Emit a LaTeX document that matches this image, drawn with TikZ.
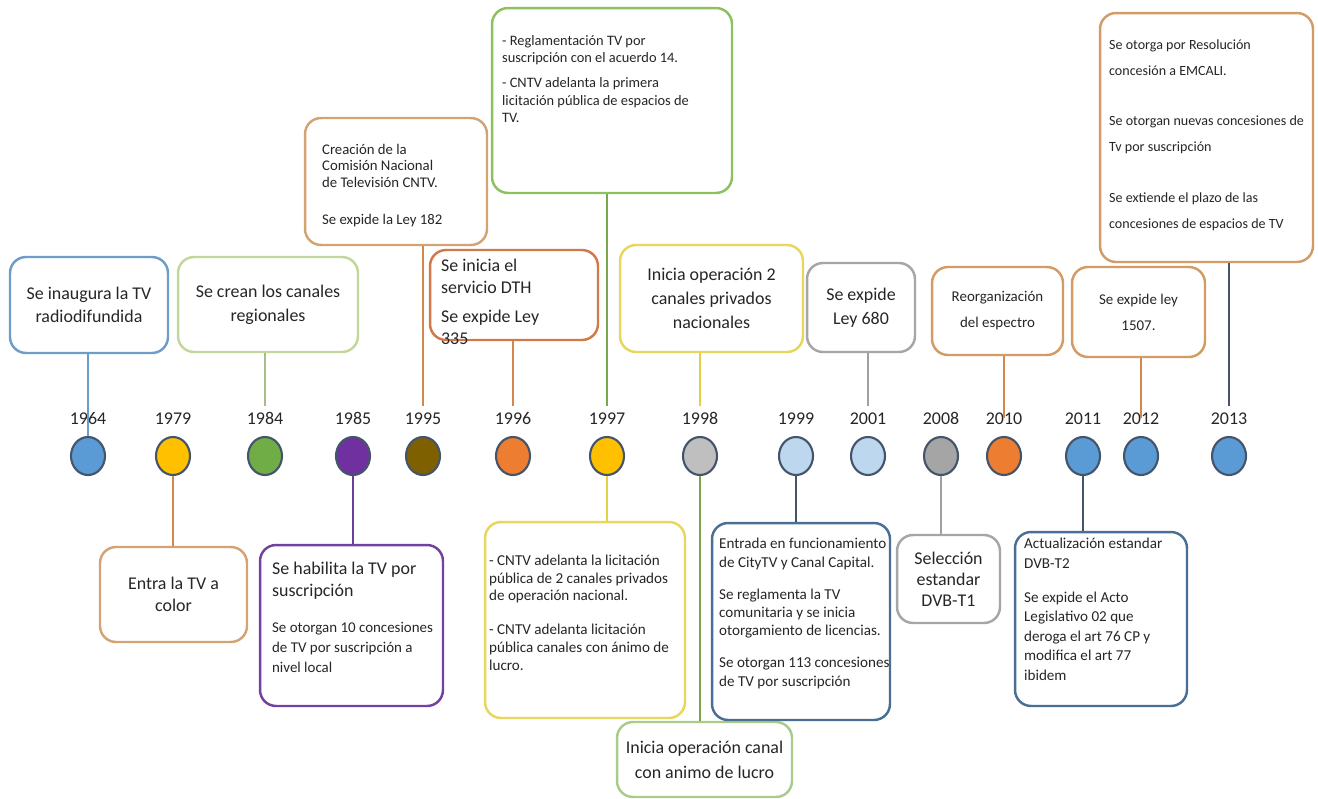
\documentclass[tikz,border=0pt]{standalone}
\usepackage{fontspec}
\setmainfont{Carlito}
\usepackage{tikz}
\usetikzlibrary{shapes.geometric}

\definecolor{dotline}{HTML}{44546A}
\definecolor{dblue}{HTML}{5B9BD5}
\definecolor{dgold}{HTML}{FFC000}
\definecolor{dgreen}{HTML}{70AD47}
\definecolor{dpurple}{HTML}{7030A0}
\definecolor{dbrown}{HTML}{7F6000}
\definecolor{dorange}{HTML}{ED7D31}
\definecolor{dlgrey}{HTML}{BFBFBF}
\definecolor{dlblue}{HTML}{BDD7EE}
\definecolor{dgrey}{HTML}{A5A5A5}

\definecolor{bblue}{HTML}{6F9DC9}
\definecolor{bpalegreen}{HTML}{C3D69B}
\definecolor{btan}{HTML}{D4A373}
\definecolor{borange}{HTML}{D2794A}
\definecolor{bgreen}{HTML}{8DC05F}
\definecolor{byellow}{HTML}{E9D65C}
\definecolor{bgrey}{HTML}{A6A6A6}
\definecolor{btanb}{HTML}{D39C67}
\definecolor{bpurple}{HTML}{7142A0}
\definecolor{bgreenb}{HTML}{A9CC8C}
\definecolor{bslate}{HTML}{4A6F94}

\definecolor{sblue}{HTML}{6A9DCC}
\definecolor{sorange}{HTML}{D3874C}
\definecolor{spalegreen}{HTML}{A8BD8C}
\definecolor{spurple}{HTML}{6B3E9A}
\definecolor{sgreen}{HTML}{77A84F}
\definecolor{syellow}{HTML}{E4CF45}
\definecolor{sgrey}{HTML}{A0A0A0}

\tikzstyle{event}=[rectangle, rounded corners=0.32cm, line width=1.4pt,
  fill=white, inner sep=0pt, text=black!85, align=center,
  font=\fontsize{10.2}{13.6}\selectfont]
\tikzstyle{note}=[inner sep=0pt, anchor=north west, align=left,
  text=black!85, font=\fontsize{8.5}{10}\selectfont]
\tikzstyle{yeardot}=[ellipse, draw=dotline, line width=1.2pt,
  minimum width=0.68cm, minimum height=0.76cm, inner sep=0pt]
\tikzstyle{yearlabel}=[text=black!85, anchor=base,
  font=\fontsize{10.2}{12}\selectfont]
\tikzstyle{stem}=[line width=1.3pt]

\begin{document}
\begin{tikzpicture}[x=0.02cm, y=-0.02cm]

\fill[white] (0,0) rectangle (1318,798);
\useasboundingbox (0,0) rectangle (1318,798);

\foreach \yr/\xx/\fc in {1964/88/dblue, 1979/173/dgold, 1984/265/dgreen,
  1985/353/dpurple, 1995/423/dbrown, 1996/513/dorange, 1997/607/dgold,
  1998/700/dlgrey, 1999/796/dlblue, 2001/868/dlblue, 2008/941/dgrey,
  2010/1004/dorange, 2011/1083/dblue, 2012/1141/dblue, 2013/1229/dblue} {
  \node[yeardot, fill=\fc] (dot\yr) at (\xx,456) {};
  \node[yearlabel] (yr\yr) at (\xx,424) {\yr};
}

% upper row
\node[event, draw=bblue, minimum width=3.16cm, minimum height=1.92cm,
  font=\fontsize{10.2}{13}\selectfont] (box1964) at (89,305)
  {Se inaugura la TV\\radiodifundida};
\node[event, draw=bpalegreen, minimum width=3.60cm, minimum height=1.90cm]
  (box1984) at (268,304.5) {Se crean los canales\\regionales};
\node[event, draw=btan, minimum width=3.64cm, minimum height=2.54cm]
  (box1995) at (396,181.5) {};
\node[note, font=\fontsize{8.4}{9.4}\selectfont] (txt1995)
  at ([shift={(18,27)}]box1995.north west)
  {Creación de la\\Comisión Nacional\\de Televisión CNTV.\\[11.6pt]Se expide la Ley 182};
\node[event, draw=borange, minimum width=3.36cm, minimum height=1.80cm]
  (box1996) at (514,295) {};
\node[note, font=\fontsize{10.2}{12.5}\selectfont] (txt1996)
  at ([shift={(12,10)}]box1996.north west)
  {Se inicia el\\servicio DTH\\[4pt]Se expide Ley\\335};
\node[event, draw=bgreen, minimum width=4.80cm, minimum height=3.70cm]
  (box1997a) at (612,100.5) {};
\node[note, font=\fontsize{8.2}{10}\selectfont] (txt1997a)
  at ([shift={(11,28)}]box1997a.north west)
  {- Reglamentación TV por\\suscripción con el acuerdo 14.\\[4.3pt]- CNTV adelanta la primera\\licitación pública de espacios de\\TV.};
\node[event, draw=byellow, minimum width=3.66cm, minimum height=2.14cm]
  (box1998a) at (711.5,298.5) {Inicia operación 2\\canales privados\\nacionales};
\node[event, draw=bgrey, minimum width=2.16cm, minimum height=1.78cm]
  (box2001) at (861,307.5) {Se expide\\Ley 680};
\node[event, draw=btanb, minimum width=2.62cm, minimum height=1.76cm,
  font=\fontsize{8.5}{14.8}\selectfont] (box2010) at (997.5,311)
  {Reorganización\\del espectro};
\node[event, draw=btanb, minimum width=2.66cm, minimum height=1.80cm,
  font=\fontsize{8.5}{14.8}\selectfont] (box2012) at (1138.5,312)
  {Se expide ley\\1507.};
\node[event, draw=btanb, minimum width=4.26cm, minimum height=4.98cm]
  (box2013) at (1206.5,137.5) {};
\node[note, font=\fontsize{8}{14.8}\selectfont] (txt2013)
  at ([shift={(10,28)}]box2013.north west)
  {Se otorga por Resolución\\concesión a EMCALI.\\[13.7pt]Se otorgan nuevas concesiones de\\Tv por suscripción\\[13.7pt]Se extiende el plazo de las\\concesiones de espacios de TV};

% lower row
\node[event, draw=btan, minimum width=2.94cm, minimum height=1.90cm,
  font=\fontsize{10.2}{12.5}\selectfont] (box1979) at (173.5,594.5)
  {Entra la TV a\\color};
\node[event, draw=bpurple, minimum width=3.66cm, minimum height=3.22cm]
  (box1985) at (351.5,625.5) {};
\node[note, font=\fontsize{10.2}{12.5}\selectfont] (txt1985a)
  at ([shift={(13,18)}]box1985.north west)
  {Se habilita la TV por\\suscripción};
\node[note, font=\fontsize{8.5}{11.5}\selectfont] (txt1985b)
  at ([shift={(13,78)}]box1985.north west)
  {Se otorgan 10 concesiones\\de TV por suscripción a\\nivel local};
\node[event, draw=byellow, minimum width=4.00cm, minimum height=3.92cm]
  (box1997b) at (585,620) {};
\node[note, font=\fontsize{8.6}{10}\selectfont] (txt1997b)
  at ([shift={(5,34)}]box1997b.north west)
  {- CNTV adelanta la licitación\\pública de 2 canales privados\\de operación nacional.\\[9.4pt]- CNTV adelanta licitación\\pública canales con ánimo de\\lucro.};
\node[event, draw=bgreenb, minimum width=3.50cm, minimum height=1.50cm,
  font=\fontsize{10.2}{14.2}\selectfont] (box1998b) at (704.5,759.5)
  {Inicia operación canal\\con animo de lucro};
\node[event, draw=bslate, minimum width=3.56cm, minimum height=3.94cm]
  (box1999) at (801,621.5) {};
\node[note, font=\fontsize{8.6}{10.5}\selectfont] (txt1999)
  at ([shift={(8,16)}]box1999.north west)
  {Entrada en funcionamiento\\de CityTV y Canal Capital.\\[7.7pt]Se reglamenta la TV\\comunitaria y se inicia\\otorgamiento de licencias.\\[7.7pt]Se otorgan 113 concesiones\\de TV por suscripción};
\node[event, draw=bgrey, minimum width=2.06cm, minimum height=1.76cm,
  font=\fontsize{10.2}{12}\selectfont] (box2008) at (948.5,579)
  {Selección\\estandar\\DVB-T1};
\node[event, draw=bslate, minimum width=3.44cm, minimum height=3.48cm]
  (box2011) at (1101,619) {};
\node[note, font=\fontsize{8.6}{11.1}\selectfont] (txt2011)
  at ([shift={(10,7)}]box2011.north west)
  {Actualización estandar\\DVB-T2\\[8.2pt]Se expide el Acto\\Legislativo 02 que\\deroga el art 76 CP y\\modifica el art 77\\ibidem};

% stems
\draw[stem, draw=sblue] (box1964.south -| dot1964) -- (dot1964.north);
\draw[stem, draw=spalegreen] (box1984.south -| dot1984) -- (yr1984.north);
\draw[stem, draw=sorange] (box1995.south -| dot1995) -- (yr1995.north);
\draw[stem, draw=sorange] (box1996.south -| dot1996) -- (yr1996.north);
\draw[stem, draw=sgreen] (box1997a.south -| dot1997) -- (yr1997.north);
\draw[stem, draw=syellow] (box1998a.south -| dot1998) -- (yr1998.north);
\draw[stem, draw=sgrey] (box2001.south -| dot2001) -- (yr2001.north);
\draw[stem, draw=sorange] (box2010.south -| dot2010) -- (yr2010.center);
\draw[stem, draw=sorange] (box2012.south -| dot2012) -- (yr2012.center);
\draw[stem, draw=dotline] (box2013.south -| dot2013) -- (yr2013.north);

\draw[stem, draw=sorange] (dot1979.south) -- (box1979.north -| dot1979);
\draw[stem, draw=spurple] (dot1985.south) -- (box1985.north -| dot1985);
\draw[stem, draw=syellow] (dot1997.south) -- (box1997b.north -| dot1997);
\draw[stem, draw=sgreen] (dot1998.south) -- (box1998b.north -| dot1998);
\draw[stem, draw=dotline] (dot1999.south) -- (box1999.north -| dot1999);
\draw[stem, draw=sgrey] (dot2008.south) -- (box2008.north -| dot2008);
\draw[stem, draw=dotline] (dot2011.south) -- (box2011.north -| dot2011);

\end{tikzpicture}
\end{document}
